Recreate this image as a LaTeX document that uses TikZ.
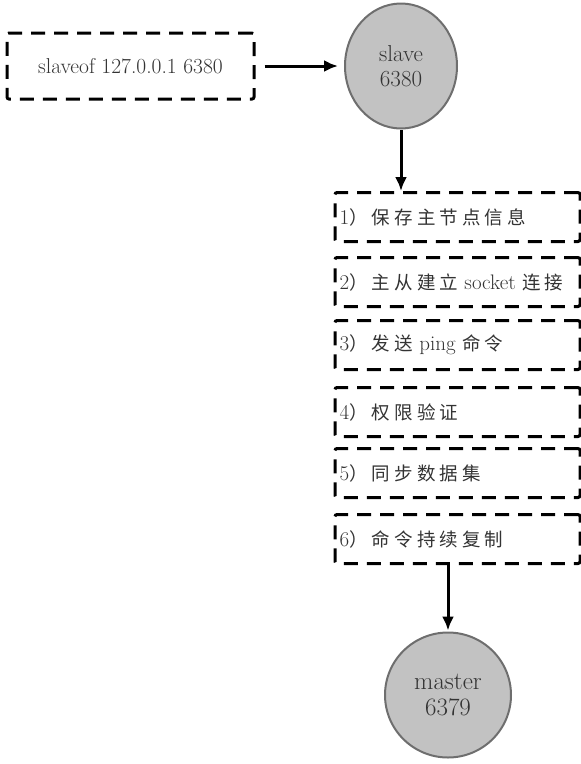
\documentclass[tikz,border=0pt]{standalone}
\usepackage{fontspec}
\newfontfamily\cjk[LetterSpace=22]{Noto Sans CJK SC}
\newcommand{\cj}[1]{{\cjk\fontsize{18.5}{20}\selectfont #1}}
\usetikzlibrary{shapes.geometric,arrows.meta}
\definecolor{circfill}{HTML}{C2C2C2}
\definecolor{circline}{HTML}{6E6E6E}
\definecolor{txt}{HTML}{333333}
\tikzset{
  dbox/.style={draw=black, line width=3pt, dash pattern=on 14pt off 9pt, rounded corners=2pt, inner sep=0pt},
  stepbox/.style={dbox, minimum width=245pt, minimum height=49pt},
  steptext/.style={anchor=west, text=txt, font=\fontsize{21}{24}\selectfont, inner sep=0pt},
  nodecirc/.style={ellipse, draw=circline, line width=2pt, fill=circfill, text=txt, align=center, inner sep=0pt},
  arr/.style={line width=3pt, -{Latex[length=14pt,width=12pt]}}
}
\begin{document}
\begin{tikzpicture}[x=1pt,y=-1pt]
\useasboundingbox (0,0) rectangle (581,764);
\node[dbox, minimum width=247pt, minimum height=66pt, text=txt, font=\fontsize{21.5}{24}\selectfont] (cmd) at (130.5,66) {slaveof 127.0.0.1 6380};
\node[nodecirc, minimum width=112pt, minimum height=125pt, font=\fontsize{23}{25}\selectfont] (slave) at (401,66) {slave\\6380};
\node[nodecirc, minimum width=126pt, minimum height=125pt, font=\fontsize{25}{26}\selectfont] (master) at (448,695) {master\\6379};

\node[stepbox] (s1) at (457.5,217) {};
\node[stepbox] (s2) at (457.5,282) {};
\node[stepbox] (s3) at (457.5,345) {};
\node[stepbox] (s4) at (457.5,412) {};
\node[stepbox] (s5) at (457.5,473) {};
\node[stepbox] (s6) at (457.5,539) {};

\node[steptext] (t1) at ([xshift=6pt]s1.west) {1\cj{）保存主节点信息}};
\node[steptext] (t2) at ([xshift=6pt]s2.west) {2\cj{）主从建立} socket \cj{连接}};
\node[steptext] (t3) at ([xshift=6pt]s3.west) {3\cj{）发送} ping \cj{命令}};
\node[steptext] (t4) at ([xshift=6pt]s4.west) {4\cj{）权限验证}};
\node[steptext] (t5) at ([xshift=6pt]s5.west) {5\cj{）同步数据集}};
\node[steptext] (t6) at ([xshift=6pt]s6.west) {6\cj{）命令持续复制}};

\draw[arr, shorten <=9pt, shorten >=6pt] (cmd.east) -- (slave.west);
\draw[arr] (slave.south) -- (slave.south |- s1.north);
\draw[arr, shorten >=1pt] (master.north |- s6.south) -- (master.north);
\end{tikzpicture}
\end{document}
